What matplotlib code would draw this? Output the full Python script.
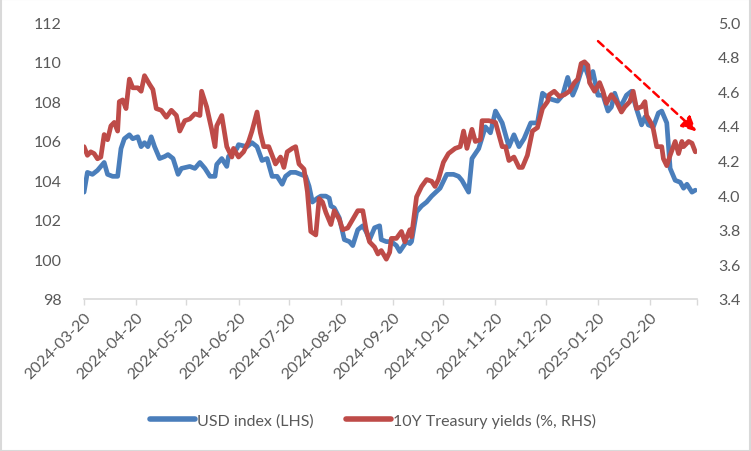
import pandas as pd
import matplotlib.pyplot as plt
from matplotlib.patches import Rectangle

plt.rcParams['font.family'] = ['Lato', 'DejaVu Sans']

# USD index (left axis)
usd_dates = [
    "2024-03-20", "2024-03-22", "2024-03-25", "2024-03-28", "2024-04-01", "2024-04-03",
    "2024-04-06", "2024-04-09", "2024-04-11", "2024-04-13", "2024-04-16", "2024-04-18",
    "2024-04-21", "2024-04-23", "2024-04-25", "2024-04-27", "2024-04-29", "2024-05-01",
    "2024-05-04", "2024-05-07", "2024-05-09", "2024-05-12", "2024-05-15", "2024-05-17",
    "2024-05-22", "2024-05-25", "2024-05-28", "2024-05-31", "2024-06-03", "2024-06-06",
    "2024-06-07", "2024-06-10", "2024-06-13", "2024-06-14", "2024-06-19", "2024-06-20",
    "2024-06-25", "2024-06-28", "2024-07-01", "2024-07-04", "2024-07-07", "2024-07-10",
    "2024-07-13", "2024-07-16", "2024-07-18", "2024-07-21", "2024-07-24", "2024-07-27",
    "2024-07-30", "2024-08-01", "2024-08-03", "2024-08-06", "2024-08-08", "2024-08-11",
    "2024-08-13", "2024-08-14", "2024-08-16", "2024-08-19", "2024-08-22", "2024-08-25",
    "2024-08-27", "2024-08-30", "2024-09-02", "2024-09-04", "2024-09-06", "2024-09-09",
    "2024-09-12", "2024-09-13", "2024-09-16", "2024-09-19", "2024-09-22", "2024-09-24",
    "2024-09-28", "2024-09-30", "2024-10-01", "2024-10-04", "2024-10-07", "2024-10-10",
    "2024-10-13", "2024-10-18", "2024-10-22", "2024-10-26", "2024-10-29", "2024-10-31",
    "2024-11-04", "2024-11-06", "2024-11-10", "2024-11-14", "2024-11-17", "2024-11-20",
    "2024-11-24", "2024-11-28", "2024-12-01", "2024-12-04", "2024-12-07", "2024-12-11",
    "2024-12-15", "2024-12-18", "2024-12-21", "2024-12-23", "2024-12-27", "2024-12-30",
    "2025-01-02", "2025-01-05", "2025-01-07", "2025-01-10", "2025-01-12", "2025-01-15",
    "2025-01-17", "2025-01-20", "2025-01-23", "2025-01-26", "2025-01-28", "2025-01-30",
    "2025-02-01", "2025-02-03", "2025-02-06", "2025-02-09", "2025-02-12", "2025-02-15",
    "2025-02-17", "2025-02-19", "2025-02-22", "2025-02-25", "2025-02-27", "2025-03-02",
    "2025-03-04", "2025-03-07", "2025-03-10", "2025-03-12", "2025-03-14", "2025-03-17",
    "2025-03-19",
]
usd_values = [
    103.4, 104.4, 104.3, 104.5, 104.9, 104.3, 104.2, 104.2, 105.6, 106.1, 106.3, 106.1,
    106.2, 105.7, 105.9, 105.7, 106.2, 105.7, 105.1, 105.2, 105.3, 105.1, 104.3, 104.6,
    104.7, 104.6, 104.9, 104.6, 104.2, 104.2, 104.8, 105.1, 104.7, 105.2, 105.6, 105.8,
    105.7, 105.9, 105.7, 105.0, 105.1, 104.2, 104.2, 103.8, 104.2, 104.4, 104.4, 104.3,
    104.2, 103.7, 102.9, 103.1, 103.2, 103.2, 103.1, 102.7, 102.6, 102.1, 101.0, 100.9,
    100.7, 101.5, 101.7, 101.4, 101.0, 101.6, 101.7, 101.0, 100.9, 100.9, 100.7, 100.4,
    100.9, 100.8, 100.9, 102.4, 102.7, 102.9, 103.2, 103.6, 104.3, 104.3, 104.2, 104.0,
    103.4, 105.1, 105.6, 106.7, 106.4, 107.5, 106.9, 105.7, 106.3, 105.7, 106.1, 106.9,
    106.9, 108.4, 108.2, 108.1, 108.0, 108.3, 109.2, 108.3, 108.7, 109.5, 109.8, 109.1,
    109.5, 108.3, 108.3, 107.5, 107.7, 108.4, 107.9, 107.8, 108.3, 108.5, 107.6, 106.8,
    107.2, 106.8, 106.7, 107.4, 107.5, 106.9, 104.6, 104.0, 103.9, 103.6, 103.8, 103.4,
    103.5,
]

# 10Y Treasury yields (right axis, %)
ust_dates = [
    "2024-03-20", "2024-03-22", "2024-03-24", "2024-03-26", "2024-03-28", "2024-03-30",
    "2024-04-01", "2024-04-03", "2024-04-05", "2024-04-07", "2024-04-09", "2024-04-10",
    "2024-04-12", "2024-04-14", "2024-04-16", "2024-04-18", "2024-04-21", "2024-04-23",
    "2024-04-25", "2024-04-28", "2024-04-30", "2024-05-02", "2024-05-05", "2024-05-08",
    "2024-05-11", "2024-05-14", "2024-05-16", "2024-05-19", "2024-05-22", "2024-05-25",
    "2024-05-28", "2024-05-29", "2024-06-01", "2024-06-04", "2024-06-06", "2024-06-07",
    "2024-06-10", "2024-06-13", "2024-06-16", "2024-06-17", "2024-06-20", "2024-06-23",
    "2024-06-26", "2024-06-28", "2024-07-01", "2024-07-03", "2024-07-05", "2024-07-08",
    "2024-07-10", "2024-07-12", "2024-07-15", "2024-07-17", "2024-07-19", "2024-07-22",
    "2024-07-24", "2024-07-26", "2024-07-29", "2024-07-31", "2024-08-02", "2024-08-05",
    "2024-08-07", "2024-08-09", "2024-08-11", "2024-08-14", "2024-08-16", "2024-08-19",
    "2024-08-21", "2024-08-24", "2024-08-27", "2024-08-30", "2024-09-02", "2024-09-04",
    "2024-09-06", "2024-09-09", "2024-09-11", "2024-09-13", "2024-09-16", "2024-09-18",
    "2024-09-19", "2024-09-22", "2024-09-25", "2024-09-27", "2024-09-30", "2024-10-01",
    "2024-10-04", "2024-10-07", "2024-10-10", "2024-10-13", "2024-10-15", "2024-10-17",
    "2024-10-20", "2024-10-23", "2024-10-27", "2024-10-30", "2024-11-01", "2024-11-03",
    "2024-11-06", "2024-11-08", "2024-11-11", "2024-11-12", "2024-11-16", "2024-11-20",
    "2024-11-24", "2024-11-26", "2024-11-28", "2024-12-01", "2024-12-04", "2024-12-06",
    "2024-12-09", "2024-12-12", "2024-12-15", "2024-12-18", "2024-12-21", "2024-12-22",
    "2024-12-25", "2024-12-28", "2024-12-31", "2025-01-03", "2025-01-06", "2025-01-08",
    "2025-01-10", "2025-01-12", "2025-01-14", "2025-01-15", "2025-01-18", "2025-01-21",
    "2025-01-23", "2025-01-25", "2025-01-28", "2025-01-31", "2025-02-03", "2025-02-05",
    "2025-02-08", "2025-02-10", "2025-02-12", "2025-02-15", "2025-02-17", "2025-02-18",
    "2025-02-21", "2025-02-22", "2025-02-24", "2025-02-27", "2025-02-28", "2025-03-02",
    "2025-03-04", "2025-03-07", "2025-03-09", "2025-03-11", "2025-03-12", "2025-03-15",
    "2025-03-17", "2025-03-19",
]
ust_values = [
    4.28, 4.23, 4.25, 4.24, 4.21, 4.22, 4.35, 4.32, 4.40, 4.42, 4.37, 4.54,
    4.55, 4.50, 4.67, 4.62, 4.62, 4.60, 4.69, 4.64, 4.61, 4.50, 4.49, 4.45,
    4.49, 4.46, 4.37, 4.43, 4.44, 4.47, 4.46, 4.60, 4.51, 4.38, 4.28, 4.40,
    4.46, 4.28, 4.22, 4.27, 4.22, 4.25, 4.31, 4.37, 4.48, 4.36, 4.28, 4.28,
    4.23, 4.18, 4.22, 4.16, 4.25, 4.27, 4.28, 4.18, 4.15, 4.02, 3.79, 3.77,
    3.98, 3.96, 3.90, 3.83, 3.91, 3.86, 3.80, 3.81, 3.86, 3.91, 3.91, 3.80,
    3.73, 3.70, 3.66, 3.68, 3.63, 3.67, 3.75, 3.75, 3.79, 3.73, 3.80, 3.76,
    3.99, 4.05, 4.09, 4.08, 4.05, 4.09, 4.19, 4.24, 4.27, 4.28, 4.37, 4.27,
    4.38, 4.31, 4.32, 4.43, 4.43, 4.42, 4.28, 4.28, 4.20, 4.22, 4.16, 4.16,
    4.23, 4.37, 4.39, 4.50, 4.54, 4.58, 4.60, 4.57, 4.58, 4.60, 4.65, 4.67,
    4.76, 4.77, 4.75, 4.65, 4.60, 4.65, 4.60, 4.53, 4.58, 4.54, 4.48, 4.51,
    4.54, 4.60, 4.50, 4.51, 4.54, 4.46, 4.41, 4.38, 4.28, 4.28, 4.21, 4.17,
    4.23, 4.31, 4.24, 4.31, 4.28, 4.31, 4.30, 4.25,
]

tick_dates = ["2024-03-20", "2024-04-20", "2024-05-20", "2024-06-20", "2024-07-20",
              "2024-08-20", "2024-09-20", "2024-10-20", "2024-11-20", "2024-12-20",
              "2025-01-20", "2025-02-20", "2025-03-20"]

blue = '#4A7EBB'
red = '#BE4B48'
grey_txt = '#595959'
axis_grey = '#D9D9D9'

fig = plt.figure(figsize=(7.51, 4.52), dpi=100)
ax = fig.add_axes([0.1119, 0.3363, 0.8162, 0.6128])
ax2 = ax.twinx()

ax.plot(pd.to_datetime(usd_dates), usd_values, color=blue, lw=3.4,
        solid_capstyle='round', solid_joinstyle='round', label='USD index (LHS)')
ax2.plot(pd.to_datetime(ust_dates), ust_values, color=red, lw=3.4,
         solid_capstyle='round', solid_joinstyle='round',
         label='10Y Treasury yields (%, RHS)')

ticks = pd.to_datetime(tick_dates)
ax.set_xlim(ticks[0], ticks[-1])
ax.set_xticks(ticks)
ax.set_xticklabels(tick_dates[:-1] + [''], rotation=45, ha='right',
                   rotation_mode='anchor', fontsize=11.5, color=grey_txt)
ax.tick_params(axis='x', length=4, color=axis_grey, width=1, pad=4)

ax.set_ylim(98, 112)
ax.set_yticks(range(98, 113, 2))
ax.tick_params(axis='y', length=0, pad=16, labelsize=11.5, labelcolor=grey_txt)

ax2.set_ylim(3.4, 5.0)
ax2.set_yticks([3.4 + 0.2 * i for i in range(9)])
ax2.set_yticklabels([f'{3.4 + 0.2 * i:.1f}' for i in range(9)])
ax2.tick_params(axis='y', length=0, pad=15, labelsize=11.5, labelcolor=grey_txt)

for a in (ax, ax2):
    for s in ('top', 'left', 'right'):
        a.spines[s].set_visible(False)
ax.spines['bottom'].set_color(axis_grey)
ax.spines['bottom'].set_linewidth(1.2)
ax2.spines['bottom'].set_visible(False)

# downward trend arrow
ax2.annotate('', xy=(0.999, 0.605), xytext=(0.8385, 0.931),
             xycoords='axes fraction', textcoords='axes fraction',
             arrowprops=dict(arrowstyle='-|>', color='#FF0000', lw=1.8,
                             linestyle=(0, (3, 2)), mutation_scale=22,
                             shrinkA=0, shrinkB=0))

h1, l1 = ax.get_legend_handles_labels()
h2, l2 = ax2.get_legend_handles_labels()
leg = fig.legend(h1 + h2, l1 + l2, loc='center', bbox_to_anchor=(0.497, 0.068),
                 ncol=2, frameon=False, fontsize=11.5, handlelength=2.8,
                 handletextpad=0.15, columnspacing=2.0)
for t in leg.get_texts():
    t.set_color(grey_txt)
for line in leg.get_lines():
    line.set_linewidth(4)

fig.patches.append(Rectangle((0.001, 0.001), 0.998, 0.998, transform=fig.transFigure,
                             fill=False, edgecolor=axis_grey, lw=1.5))

fig.savefig('out.png', dpi=100)
